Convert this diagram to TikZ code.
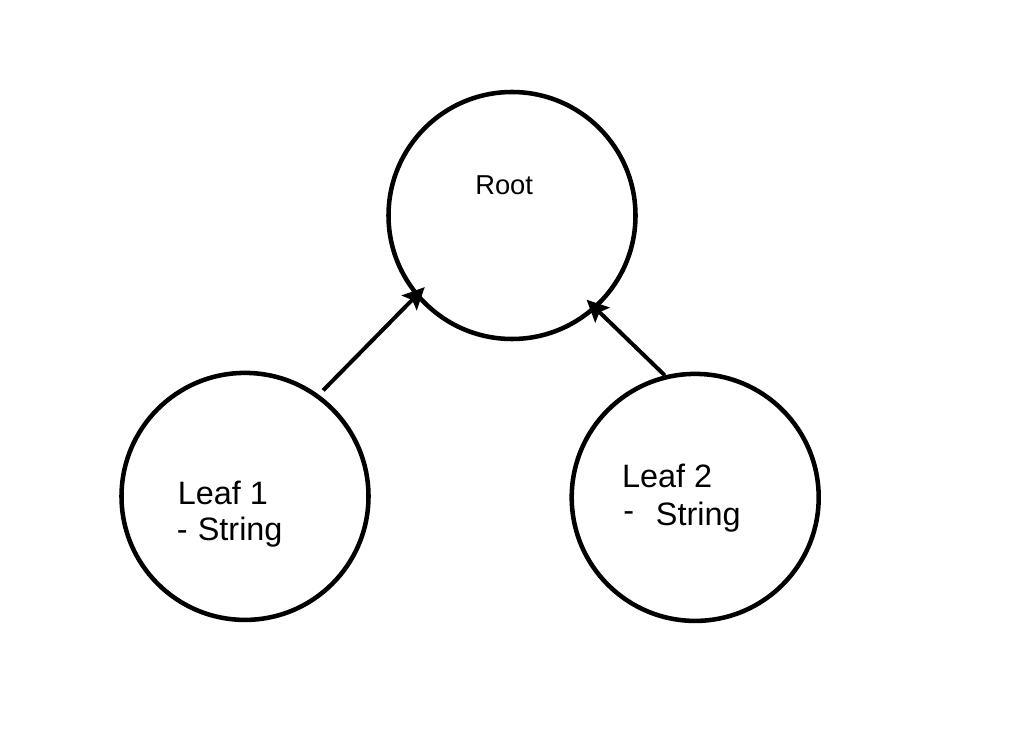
\documentclass[tikz,border=0pt]{standalone}
\usepackage{fontspec}
\setmainfont{Liberation Sans}
\usetikzlibrary{arrows.meta}
\begin{document}
\begin{tikzpicture}[x=0.75pt,y=-0.75pt,
  circ/.style={circle,draw=black,line width=3.4pt,minimum size=185.25pt,inner sep=0pt,fill=none},
  arr/.style={draw=black,line width=3pt,-{Stealth[length=16.5pt,width=15.5pt,inset=3pt]}},
  rootfont/.style={font=\fontsize{20.5pt}{24pt}\selectfont,inner sep=0pt,anchor=base west},
  leaffont/.style={font=\fontsize{24.3pt}{29pt}\selectfont,inner sep=0pt,anchor=base west}]
\path[use as bounding box,fill=white] (0,0) rectangle (1028,738);
\node[circ] (root) at (512,215.5) {};
\node[circ] (leaf1) at (245,496.4) {};
\node[circ] (leaf2) at (695.2,497.4) {};
\node[rootfont] (rootlabel) at (475,194.3) {Root};
\node[leaffont] (l1a) at (177.5,504.3) {Leaf 1};
\node[leaffont] (l1b) at (176.5,540.7) {-\hspace{1pt} String};
\node[leaffont] (l2a) at (621.8,487.3) {Leaf 2};
\node[leaffont] (l2b) at (623.2,525) {\raisebox{2.6pt}{-}\hspace{9.5pt} String};
\draw[arr,shorten <=4.5pt,shorten >=-9.75pt] (leaf1.54.5) -- (root.220);
\draw[arr,shorten >=-10pt] (leaf2.104) -- (root.312.3);
\end{tikzpicture}
\end{document}
